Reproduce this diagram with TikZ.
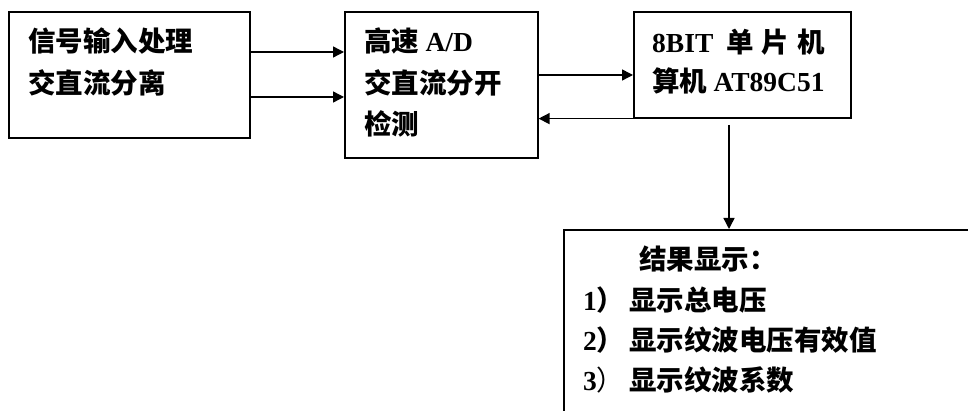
\documentclass[tikz,border=0pt]{standalone}
\usepackage{fontspec}
\setmainfont{Liberation Serif}
\newfontfamily\cjk{Noto Sans CJK SC}
\newfontfamily\en{Liberation Serif}
\usetikzlibrary{arrows.meta}

\tikzset{
  box/.style={draw, line width=1.6pt, anchor=north west, inner sep=0pt},
  txt/.style={anchor=base west, inner sep=0pt, font=\cjk\bfseries\fontsize{27.5}{32}\selectfont},
  arr/.style={line width=1.4pt, -{Triangle[length=11pt,width=11pt]}}
}

\begin{document}
\begin{tikzpicture}[x=1pt, y=-1pt]
\useasboundingbox (0,0) rectangle (968,411);
% boxes
\node[box, minimum width=241pt, minimum height=126pt] (sig) at (8,11) {};
\node[box, minimum width=193pt, minimum height=146pt] (ad) at (344,11) {};
\node[box, minimum width=217pt, minimum height=106pt] (mcu) at (633,11) {};
\node[box, minimum width=450pt, minimum height=250pt] (res) at (563,229) {};

% texts
\node[txt] (sig1) at (28,52) {信号输入处理};
\node[txt] (sig2) at (28,94) {交直流分离};
\node[txt] (ad1) at (364,52) {高速 {\en\bfseries A/D}};
\node[txt] (ad2) at (364,94) {交直流分开};
\node[txt] (ad3) at (364,135) {检测};
\node[txt] (mcu1) at (652,53) {{\en\bfseries 8BIT}\hspace{13pt}单\hspace{8pt}片\hspace{8pt}机};
\node[txt] (mcu2) at (652,92) {算机 {\en\bfseries AT89C51}};
\node[txt] (res0) at (639,270) {结果显示：};
\node[txt] (res1) at (583,310) {{\en\bfseries 1}）\hspace{5pt}显示总电压};
\node[txt] (res2) at (583,350) {{\en\bfseries 2}）\hspace{5pt}显示纹波电压有效值};
\node[txt] (res3) at (583,390) {{\en 3}{\mdseries ）}\hspace{5pt}显示纹波系数};

% connectors
\coordinate (s1) at ([yshift=-41pt]sig.north east);
\coordinate (s2) at ([yshift=-86pt]sig.north east);
\coordinate (a1) at ([yshift=-64pt]ad.north east);
\coordinate (m1) at (729,125);
\draw[arr] (s1) -- (s1 -| ad.west);
\draw[arr] (s2) -- (s2 -| ad.west);
\draw[arr] (a1) -- (a1 -| mcu.west);
\draw[arr] (mcu.south west) -- (mcu.south west -| ad.east);
\draw[arr] (m1) -- (m1 |- res.north);
\end{tikzpicture}
\end{document}
